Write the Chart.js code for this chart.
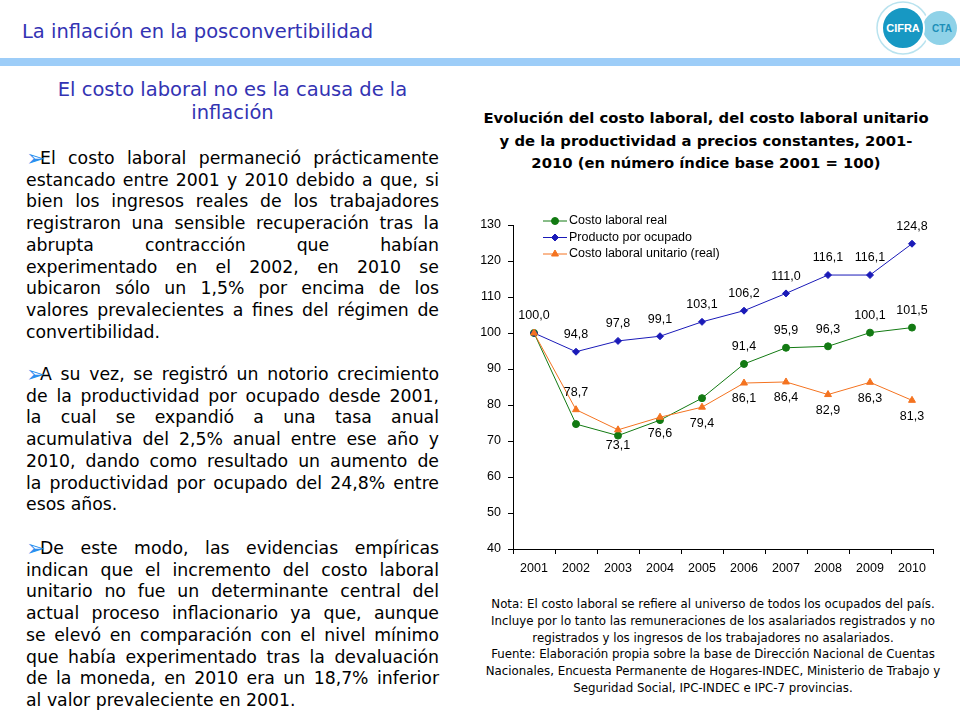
<!DOCTYPE html>
<html>
<head>
<meta charset="utf-8">
<script src="https://cdn.jsdelivr.net/npm/chart.js@4.4.0/dist/chart.umd.min.js"></script>
<style>
  html, body { margin: 0; padding: 0; background: #fff; }
  body { width: 960px; height: 720px; position: relative; overflow: hidden;
         font-family: "DejaVu Sans", sans-serif; }
  .abs { position: absolute; }
  #title { left: 22px; top: 19px; font-size: 19.5px; line-height: 26px; color: #3333b3; }
  #bar { left: 0; top: 58px; width: 960px; height: 8px; background: #9dcdf8; }
  #subtitle { left: 16px; top: 78px; width: 433px; text-align: center; font-size: 19.5px; line-height: 23px; color: #3333b3; }
  .para { left: 26px; width: 413px; font-size: 17.3px; line-height: 21.7px; color: #000; }
  .para div { text-align: justify; text-align-last: justify; white-space: normal; }
  .para div.last { text-align: left; text-align-last: left; }
  .para div.first { padding-left: 14px; position: relative; }
  .bullet { position: absolute; left: 0px; top: -3px; color: #2b8fef; font-size: 23px; line-height: 26px; }
  #ctitle { left: 446px; top: 107px; width: 520px; text-align: center; font-weight: bold; font-size: 14.8px; line-height: 22.5px; }
  #note { left: 443px; top: 596px; width: 540px; text-align: center; font-size: 11.8px; line-height: 16.8px; }
  #chartbox { left: 450px; top: 195px; }
</style>
</head>
<body>
<div id="title" class="abs">La inflación en la posconvertibilidad</div>
<svg class="abs" style="left:872px;top:0px" width="88" height="58">
  <circle cx="31" cy="28" r="26" fill="none" stroke="#b9e3ef" stroke-width="1.5"/>
  <circle cx="68" cy="28" r="18" fill="#8fd2e8" stroke="#fff" stroke-width="2"/>
  <circle cx="31" cy="28" r="21" fill="#1798c3" stroke="#fff" stroke-width="2"/>
  <text x="31" y="32" text-anchor="middle" font-family="Liberation Sans" font-weight="bold" font-size="11" fill="#fff">CIFRA</text>
  <text x="70" y="32" text-anchor="middle" font-family="Liberation Sans" font-weight="bold" font-size="10" fill="#1c8fb8">CTA</text>
</svg>
<div id="bar" class="abs"></div>

<div id="subtitle" class="abs">El costo laboral no es la causa de la<br>inflación</div>

<div class="abs para" style="top:148px">
  <div class="first"><span class="bullet">➢</span>El costo laboral permaneció prácticamente</div>
  <div>estancado entre 2001 y 2010 debido a que, si</div>
  <div>bien los ingresos reales de los trabajadores</div>
  <div>registraron una sensible recuperación tras la</div>
  <div>abrupta contracción que habían</div>
  <div>experimentado en el 2002, en 2010 se</div>
  <div>ubicaron sólo un 1,5% por encima de los</div>
  <div>valores prevalecientes a fines del régimen de</div>
  <div class="last">convertibilidad.</div>
</div>

<div class="abs para" style="top:364px">
  <div class="first"><span class="bullet">➢</span>A su vez, se registró un notorio crecimiento</div>
  <div>de la productividad por ocupado desde 2001,</div>
  <div>la cual se expandió a una tasa anual</div>
  <div>acumulativa del 2,5% anual entre ese año y</div>
  <div>2010, dando como resultado un aumento de</div>
  <div>la productividad por ocupado del 24,8% entre</div>
  <div class="last">esos años.</div>
</div>

<div class="abs para" style="top:538px">
  <div class="first"><span class="bullet">➢</span>De este modo, las evidencias empíricas</div>
  <div>indican que el incremento del costo laboral</div>
  <div>unitario no fue un determinante central del</div>
  <div>actual proceso inflacionario ya que, aunque</div>
  <div>se elevó en comparación con el nivel mínimo</div>
  <div>que había experimentado tras la devaluación</div>
  <div>de la moneda, en 2010 era un 18,7% inferior</div>
  <div class="last">al valor prevaleciente en 2001.</div>
</div>

<div id="ctitle" class="abs">Evolución del costo laboral, del costo laboral unitario<br>y de la productividad a precios constantes, 2001-<br>2010 (en número índice base 2001 = 100)</div>

<div id="chartbox" class="abs"><canvas id="chart" width="505" height="395"></canvas></div>

<div id="note" class="abs">Nota: El costo laboral se refiere al universo de todos los ocupados del país.<br>Incluye por lo tanto las remuneraciones de los asalariados registrados y no<br>registrados y los ingresos de los trabajadores no asalariados.<br>Fuente: Elaboración propia sobre la base de Dirección Nacional de Cuentas<br>Nacionales, Encuesta Permanente de Hogares-INDEC, Ministerio de Trabajo y<br>Seguridad Social, IPC-INDEC e IPC-7 provincias.</div>

<script>
// datos (índice base 2001 = 100)
const years = ['2001', '2002', '2003', '2004', '2005', '2006', '2007', '2008', '2009', '2010'];
const costoLaboralReal = [100.0, 74.7, 71.5, 75.8, 81.9, 91.4, 95.9, 96.3, 100.1, 101.5];
const productoPorOcupado = [100.0, 94.8, 97.8, 99.1, 103.1, 106.2, 111.0, 116.1, 116.1, 124.8];
const costoLaboralUnitario = [100.0, 78.7, 73.1, 76.6, 79.4, 86.1, 86.4, 82.9, 86.3, 81.3];
const yTicks = [40, 50, 60, 70, 80, 90, 100, 110, 120, 130];

Chart.defaults.font.family = 'Liberation Sans, Arial, sans-serif';
Chart.defaults.color = '#000';

const fmt = (v) => v.toFixed(1).replace('.', ',');

// etiquetas de valor sobre/bajo cada punto
const valueLabels = {
  id: 'valueLabels',
  afterDatasetsDraw(chart) {
    const ctx = chart.ctx;
    ctx.save();
    ctx.font = '12.5px Liberation Sans';
    ctx.fillStyle = '#000';
    ctx.textAlign = 'center';
    ctx.textBaseline = 'middle';
    chart.data.datasets.forEach((ds, i) => {
      const meta = chart.getDatasetMeta(i);
      meta.data.forEach((pt, j) => {
        const pos = ds.labelPos[j];
        if (!pos) return;
        const dy = pos === 'up' ? -17 : 16;
        ctx.fillText(fmt(ds.data[j]), pt.x, pt.y + dy);
      });
    });
    ctx.restore();
  }
};

// leyenda dentro del área, estilo Excel (línea + marcador)
const lineLegend = {
  id: 'lineLegend',
  afterDraw(chart) {
    const ctx = chart.ctx;
    const a = chart.chartArea;
    const x0 = a.left + 30;
    ctx.save();
    ctx.font = '12.5px Liberation Sans';
    ctx.textBaseline = 'middle';
    chart.data.datasets.forEach((ds, i) => {
      const y = a.top - 4 + i * 16.5;
      ctx.strokeStyle = ds.borderColor;
      ctx.lineWidth = 1;
      ctx.beginPath();
      ctx.moveTo(x0, y);
      ctx.lineTo(x0 + 24, y);
      ctx.stroke();
      ctx.fillStyle = ds.borderColor;
      Chart.helpers.drawPoint(ctx, { pointStyle: ds.pointStyle, radius: ds.pointRadius, borderWidth: 1, rotation: 0 }, x0 + 12, y);
      ctx.fillStyle = '#000';
      ctx.fillText(ds.label, x0 + 26, y);
    });
    ctx.restore();
  }
};

const none = null;
new Chart(document.getElementById('chart'), {
  type: 'line',
  data: {
    labels: years,
    datasets: [
      {
        label: 'Costo laboral real',
        data: costoLaboralReal,
        borderColor: '#127a12',
        backgroundColor: '#127a12',
        borderWidth: 1,
        pointStyle: 'circle',
        pointRadius: 3.5,
        order: 2,
        labelPos: [none, none, none, none, none, 'up', 'up', 'up', 'up', 'up']
      },
      {
        label: 'Producto por ocupado',
        data: productoPorOcupado,
        borderColor: '#1a1ab8',
        backgroundColor: '#1a1ab8',
        borderWidth: 1,
        pointStyle: 'rectRot',
        pointRadius: 3.5,
        order: 1,
        labelPos: ['up', 'up', 'up', 'up', 'up', 'up', 'up', 'up', 'up', 'up']
      },
      {
        label: 'Costo laboral unitario (real)',
        data: costoLaboralUnitario,
        borderColor: '#f47320',
        backgroundColor: '#f47320',
        borderWidth: 1,
        pointStyle: 'triangle',
        pointRadius: 4,
        order: 0,
        labelPos: [none, 'up', 'down', 'down', 'down', 'down', 'down', 'down', 'down', 'down']
      }
    ]
  },
  options: {
    responsive: false,
    animation: false,
    devicePixelRatio: 1,
    layout: { padding: { top: 30, right: 22, left: 0, bottom: 0 } },
    plugins: { legend: { display: false }, tooltip: { enabled: false } },
    scales: {
      x: {
        offset: true,
        grid: { offset: true, drawOnChartArea: false, tickLength: 5, color: '#000' },
        border: { color: '#000' },
        ticks: { font: { size: 12.5 }, padding: 7, maxRotation: 0 },
        afterFit: (s) => { s.height = 41; }
      },
      y: {
        min: 40,
        max: 130,
        afterBuildTicks: (s) => { s.ticks = yTicks.map((v) => ({ value: v })); },
        grid: { drawOnChartArea: false, tickLength: 5, color: '#000' },
        border: { color: '#000' },
        ticks: { font: { size: 12.5 }, padding: 7 },
        afterFit: (s) => { s.width = 63; }
      }
    }
  },
  plugins: [valueLabels, lineLegend]
});
</script>
</body>
</html>
